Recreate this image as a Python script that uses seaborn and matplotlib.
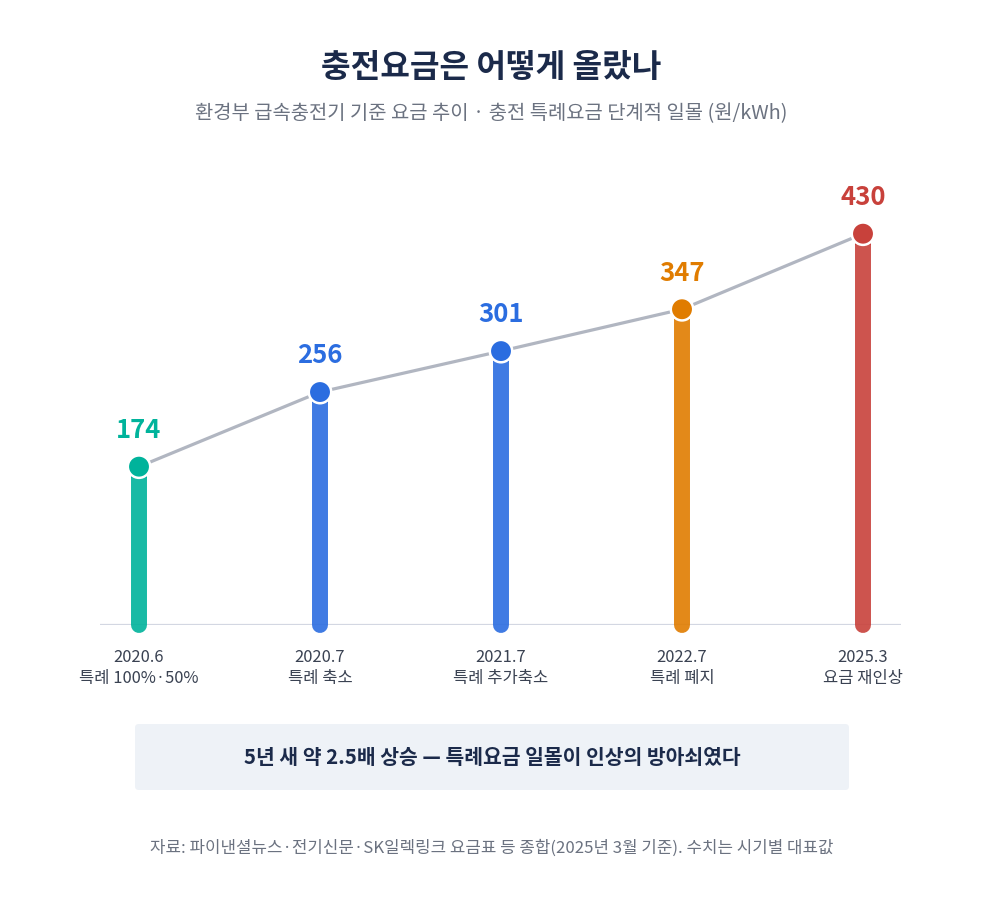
import matplotlib
matplotlib.use("Agg")
import matplotlib.pyplot as plt
import seaborn as sns
import pandas as pd
from matplotlib.patches import FancyBboxPatch

# data
periods = ["2020.6", "2020.7", "2021.7", "2022.7", "2025.3"]
notes = ["특례 100%·50%", "특례 축소", "특례 추가축소", "특례 폐지", "요금 재인상"]
prices = [174, 256, 301, 347, 430]
colors = ["#00b39b", "#2b6de0", "#2b6de0", "#e07c00", "#c8413b"]

df = pd.DataFrame({"x": range(len(prices)), "price": prices, "period": periods})

sns.set_theme(style="white")
plt.rcParams['font.family'] = ['Noto Sans CJK KR', 'DejaVu Sans']

fig = plt.figure(figsize=(9.83, 9.08), dpi=100)
W, H = 983, 908
ax = fig.add_axes([100 / W, (H - 625) / H, 801 / W, 475 / H])
ax.set_xlim(-39 / 181, 4 + 38 / 181)
ax.set_ylim(0, 475 / 0.91)
ax.axis("off")

# baseline
ax.axhline(0, color="#d3d7e2", lw=1.6, zorder=1)

# stems
for i, (v, c) in enumerate(zip(prices, colors)):
    ax.plot([i, i], [0, v], color=c, lw=11.5, alpha=0.9,
            solid_capstyle="round", zorder=2, clip_on=False)
    ax.plot([i, i], [v - 12, v], color=c, lw=11.5, alpha=0.9,
            solid_capstyle="butt", zorder=2, clip_on=False)

# trend line
sns.lineplot(data=df, x="x", y="price", color="#b1b6c1", lw=2.3, ax=ax, zorder=3)

# dots
sns.scatterplot(data=df, x="x", y="price", hue="period", palette=colors,
                s=260, edgecolor="white", linewidth=1.8, legend=False,
                ax=ax, zorder=4, clip_on=False)
ax.set_xlabel("")
ax.set_ylabel("")

# value labels
for i, (v, c) in enumerate(zip(prices, colors)):
    ax.annotate(str(v), (i, v), xytext=(0, 26), textcoords="offset points",
                ha="center", va="center", fontsize=18.5, fontweight="heavy", color=c)

# x labels
for i, (p, n) in enumerate(zip(periods, notes)):
    fig.text((139 + 181 * i) / W, 1 - 658 / H, p, ha="center", va="center",
             fontsize=11.9, color="#3a4252")
    fig.text((139 + 181 * i) / W, 1 - 679 / H, n, ha="center", va="center",
             fontsize=11.9, color="#3a4252")

# title / subtitle
fig.text(0.5, 1 - 67 / H, "충전요금은 어떻게 올랐나", ha="center", va="center",
         fontsize=23.2, fontweight="heavy", color="#1b2a4a")
fig.text(0.5, 1 - 114 / H, "환경부 급속충전기 기준 요금 추이 · 충전 특례요금 단계적 일몰 (원/kWh)",
         ha="center", va="center", fontsize=14.3, color="#6b7280")

# callout box
box = FancyBboxPatch((135 / W, 1 - 790 / H), 714 / W, 66 / H,
                     boxstyle="round,pad=0,rounding_size=0.004",
                     transform=fig.transFigure, facecolor="#eef2f7",
                     edgecolor="none")
fig.patches.append(box)
fig.text(492 / W, 1 - 757 / H, "5년 새 약 2.5배 상승 — 특례요금 일몰이 인상의 방아쇠였다",
         ha="center", va="center", fontsize=14.7, fontweight="heavy", color="#1b2a4a")

# source
fig.text(492 / W, 1 - 848 / H,
         "자료: 파이낸셜뉴스·전기신문·SK일렉링크 요금표 등 종합(2025년 3월 기준). 수치는 시기별 대표값",
         ha="center", va="center", fontsize=12.1, color="#6b7280")

fig.savefig("out.png", dpi=100, facecolor="white")
